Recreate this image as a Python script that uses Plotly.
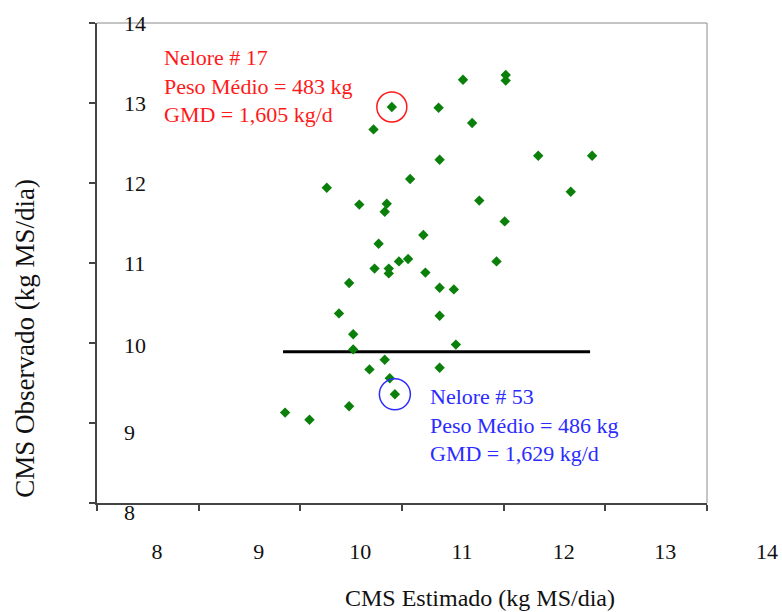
import plotly.graph_objects as go

# CMS estimado (x) vs CMS observado (y), kg MS/dia
cms_estimado = [10.90, 10.72, 11.36, 11.37, 11.08, 10.26, 10.58, 10.85, 10.83, 11.21,
                10.77, 11.60, 12.02, 12.02, 11.69, 12.34, 12.87, 12.66, 11.76, 12.01,
                10.73, 10.87, 10.87, 10.97, 11.06, 11.23, 10.48, 10.38, 10.52, 10.52,
                10.83, 10.68, 10.88, 10.93, 10.48, 9.85, 10.09, 11.93, 11.37, 11.51,
                11.37, 11.53, 11.37]
cms_observado = [12.95, 12.67, 12.94, 12.29, 12.05, 11.94, 11.73, 11.74, 11.64, 11.35,
                 11.24, 13.29, 13.35, 13.28, 12.75, 12.34, 12.34, 11.89, 11.78, 11.52,
                 10.93, 10.93, 10.87, 11.02, 11.05, 10.88, 10.75, 10.37, 10.11, 9.92,
                 9.79, 9.67, 9.56, 9.36, 9.21, 9.13, 9.04, 11.02, 10.69, 10.67,
                 10.34, 9.98, 9.69]

# horizontal reference line (mean observed)
ref_line_x = [9.83, 12.85]
ref_line_y = [9.89, 9.89]

# highlighted animals
nelore17 = {"x": 10.90, "y": 12.95}
nelore53 = {"x": 10.93, "y": 9.36}
nelore17_text = ["Nelore # 17", "Peso Médio = 483 kg", "GMD = 1,605 kg/d"]
nelore53_text = ["Nelore # 53", "Peso Médio = 486 kg", "GMD = 1,629 kg/d"]

x_ticks = [8, 9, 10, 11, 12, 13, 14]
x_tick_labels = ["8", "9", "10", "11", "12", "13", "14"]
y_ticks = [14, 13, 12, 11, 10, 9, 8]
y_tick_labels = ["14", "13", "12", "11", "10", "9", "8"]
y_label_shift = [0, 0, 0, 0, -2, -9, -9]

x_title = "CMS Estimado (kg MS/dia)"
y_title = "CMS Observado (kg MS/dia)"

FONT = "Liberation Serif, Times New Roman, serif"
RED = "#FF1A1A"
BLUE = "#2B2BFF"
GREEN = "#0A800A"

fig = go.Figure()

fig.add_trace(go.Scatter(
    x=ref_line_x, y=ref_line_y, mode="lines",
    line=dict(color="black", width=3), hoverinfo="skip", showlegend=False))

fig.add_trace(go.Scatter(
    x=cms_estimado, y=cms_observado, mode="markers",
    marker=dict(symbol="diamond", size=8, color=GREEN),
    showlegend=False))

fig.add_trace(go.Scatter(
    x=[nelore17["x"]], y=[nelore17["y"]], mode="markers",
    marker=dict(symbol="circle-open", size=30, color=RED, line=dict(width=1.5, color=RED)),
    showlegend=False))
fig.add_trace(go.Scatter(
    x=[nelore53["x"]], y=[nelore53["y"]], mode="markers",
    marker=dict(symbol="circle-open", size=31, color=BLUE, line=dict(width=1.5, color=BLUE)),
    showlegend=False))

annotations = []
for v, lab, sh in zip(y_ticks, y_tick_labels, y_label_shift):
    annotations.append(dict(
        x=0.041, xref="paper", y=v, yref="y", yshift=sh, text=lab, showarrow=False,
        xanchor="left", yanchor="middle", font=dict(family=FONT, size=22, color="#111")))

annotations.append(dict(
    x=0.1066, xref="paper", y=0.869, yref="paper", text="<br>".join(nelore17_text),
    showarrow=False, xanchor="left", yanchor="middle", align="left",
    font=dict(family=FONT, size=22, color=RED)))
annotations.append(dict(
    x=0.5426, xref="paper", y=0.1625, yref="paper", text="<br>".join(nelore53_text),
    showarrow=False, xanchor="left", yanchor="middle", align="left",
    font=dict(family=FONT, size=22, color=BLUE)))

annotations.append(dict(
    x=0.628, xref="paper", y=-0.198, yref="paper", text=x_title, showarrow=False,
    xanchor="center", yanchor="middle", font=dict(family=FONT, size=24, color="#111")))
annotations.append(dict(
    x=-0.118, xref="paper", y=0.342, yref="paper", text=y_title, showarrow=False,
    textangle=-90, xanchor="center", yanchor="middle",
    font=dict(family=FONT, size=27, color="#111")))

fig.update_layout(
    width=782, height=612,
    margin=dict(l=97, r=75, t=23, b=109, autoexpand=False),
    paper_bgcolor="white", plot_bgcolor="white",
    font=dict(family=FONT, size=22, color="#111"),
    annotations=annotations,
    shapes=[
        dict(type="line", xref="paper", yref="paper", x0=0, x1=1, y0=1, y1=1,
             line=dict(color="#8a8a8a", width=1)),
        dict(type="line", xref="paper", yref="paper", x0=1, x1=1, y0=0, y1=1,
             line=dict(color="#8a8a8a", width=1)),
    ],
)

fig.update_xaxes(
    range=[8, 14], tickvals=x_ticks, ticktext=x_tick_labels, automargin=False,
    showgrid=False, zeroline=False, showline=True, linecolor="#444", linewidth=2,
    ticks="outside", ticklen=6, tickwidth=2, tickcolor="#444",
    ticklabelshift=60, ticklabelstandoff=22,
    tickfont=dict(family=FONT, size=22, color="#111"))
fig.update_yaxes(
    range=[8, 14], tickvals=y_ticks, showticklabels=False, automargin=False,
    showgrid=False, zeroline=False, showline=True, linecolor="#444", linewidth=2,
    ticks="outside", ticklen=6, tickwidth=2, tickcolor="#444")

fig.write_html(
    "out.html",
    config={"displayModeBar": False},
    post_script="document.body.style.margin='0';document.body.style.overflow='hidden';",
)
